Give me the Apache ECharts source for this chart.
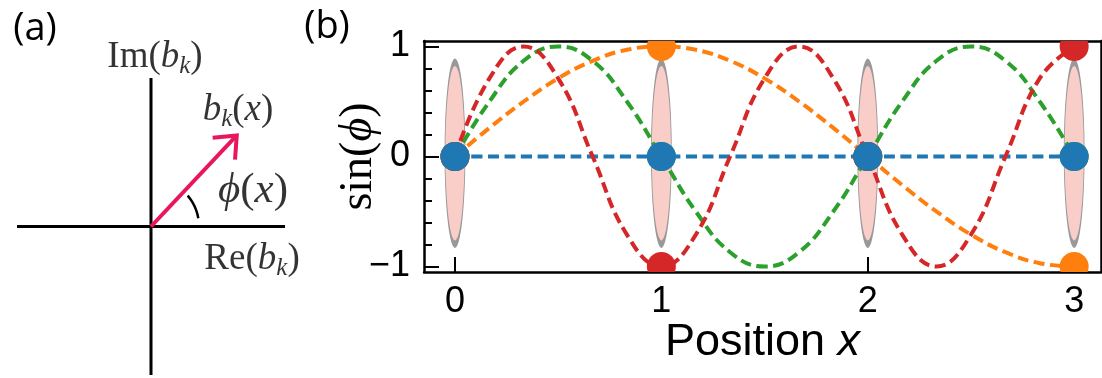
<!DOCTYPE html>
<html>
<head>
<meta charset="utf-8">
<script src="https://cdn.jsdelivr.net/npm/echarts@6/dist/echarts.min.js"></script>
<style>
  html, body { margin: 0; padding: 0; background: #fff; }
  #chart { width: 1102px; height: 378px; }
</style>
</head>
<body>
<div id="chart"></div>
<script>
// ---- panel (b): sin(phi) along the chain ----
const positions = [0, 0.167, 0.333, 0.5, 0.667, 0.833, 1, 1.167, 1.333, 1.5, 1.667, 1.833, 2, 2.167, 2.333, 2.5, 2.667, 2.833, 3];
const blueCurve = [0, 0, 0, 0, 0, 0, 0, 0, 0, 0, 0, 0, 0, 0, 0, 0, 0, 0, 0];
const orangeCurve = [0, 0.26, 0.5, 0.71, 0.87, 0.97, 1, 0.97, 0.87, 0.71, 0.5, 0.26, 0, -0.26, -0.5, -0.71, -0.87, -0.97, -1];
const greenCurve = [0, 0.5, 0.87, 1, 0.87, 0.5, 0, -0.5, -0.87, -1, -0.87, -0.5, 0, 0.5, 0.87, 1, 0.87, 0.5, 0];
const redCurve = [0, 0.71, 1, 0.71, 0, -0.71, -1, -0.71, 0, 0.71, 1, 0.71, 0, -0.71, -1, -0.71, 0, 0.71, 1];

const sites = [0, 1, 2, 3];
const blueDots = [0, 0, 0, 0];
const orangeDots = [0, 1, 0, -1];
const greenDots = [0, 0, 0, 0];
const redDots = [0, -1, 0, 1];
const ellipseCenter = 0.03;

const xTicks = [0, 1, 2, 3];
const yLabels = [-1, 0, 1];
const yMinorTicks = [-0.8, -0.6, -0.4, -0.2, 0.2, 0.4, 0.6, 0.8];

// ---- panel (a): complex plane sketch ----
const realAxis = [[-1, 0], [1, 0]];
const imagAxis = [[0, -1], [0, 1]];
const arrowShaft = [[0, 0], [0.640, 0.613]];
const arrowHead = [[0.460, 0.597], [0.640, 0.613], [0.627, 0.451]];
const angleArc = [[0.353, 0.056], [0.337, 0.110], [0.310, 0.162], [0.274, 0.208]];
const sketchLabels = [
  { value: [0.03, 1.138], text: '{r|Im(}{i|b}{s|k}{r|)}' },
  { value: [0.649, 0.781], text: '{i|b}{s|k}{r|(}{i|x}{r|)}' },
  { value: [0.761, 0.242], text: '{I|ϕ}{R|(}{I|x}{R|)}' },
  { value: [0.754, -0.222], text: '{r|Re(}{i|b}{s|k}{r|)}' }
];

const C = { blue: '#1f77b4', orange: '#ff7f0e', green: '#2ca02c', red: '#d62728' };
const SERIF = '"Liberation Serif", "DejaVu Serif", serif';
const SANS = '"Liberation Sans", Arial, sans-serif';

const mathRich = {
  r: { fontFamily: SERIF, fontSize: 37, lineHeight: 42, color: '#000' },
  i: { fontFamily: SERIF, fontSize: 37, lineHeight: 42, fontStyle: 'italic', color: '#000' },
  s: { fontFamily: SERIF, fontSize: 25, lineHeight: 14, fontStyle: 'italic', verticalAlign: 'bottom', color: '#000' },
  R: { fontFamily: SERIF, fontSize: 43, lineHeight: 46, color: '#000' },
  I: { fontFamily: SERIF, fontSize: 43, lineHeight: 46, fontStyle: 'italic', color: '#000' }
};

const chart = echarts.init(document.getElementById('chart'), null, { renderer: 'canvas' });

const pair = (xs, ys) => xs.map((x, i) => [x, ys[i]]);

const curve = (vals, color) => ({
  type: 'line', xAxisIndex: 1, yAxisIndex: 1,
  data: pair(positions, vals),
  smooth: 0.45, showSymbol: false, symbol: 'none', silent: true, z: 3,
  lineStyle: { color, width: 4, type: [11, 5.5] }
});

const dots = (vals, color, z) => ({
  type: 'custom', xAxisIndex: 1, yAxisIndex: 1, clip: true, silent: true, z,
  data: pair(sites, vals),
  renderItem: (params, api) => {
    const p = api.coord([api.value(0), api.value(1)]);
    return { type: 'circle', shape: { cx: p[0], cy: p[1], r: 14.5 }, style: { fill: color } };
  }
});

const sketchLine = (data, color, width, smooth) => ({
  type: 'line', xAxisIndex: 0, yAxisIndex: 0, data, smooth: smooth || false,
  symbol: 'none', silent: true, clip: false,
  lineStyle: { color, width, cap: 'butt', join: 'miter' }
});

const option = {
  animation: false,
  backgroundColor: '#fff',
  graphic: [
    { type: 'text', x: 35, y: 29, style: { text: '(a)', font: '38px "Open Sans", "Noto Sans", sans-serif', fill: '#000', textAlign: 'center', textVerticalAlign: 'middle' } },
    { type: 'text', x: 327, y: 27, style: { text: '(b)', font: '38px "Open Sans", "Noto Sans", sans-serif', fill: '#000', textAlign: 'center', textVerticalAlign: 'middle' } }
  ],
  grid: [
    { left: 17, top: 78, width: 268, height: 297 },
    { left: 424, top: 41, right: 1, height: 231 }
  ],
  xAxis: [
    { gridIndex: 0, type: 'value', min: -1, max: 1, show: false },
    {
      gridIndex: 1, type: 'value', min: -0.15, max: 3.13, position: 'bottom',
      axisLine: { onZero: false, lineStyle: { color: '#000', width: 2.5 } },
      axisTick: { inside: true, length: 15, customValues: xTicks, lineStyle: { color: '#000', width: 2 } },
      axisLabel: { customValues: xTicks, fontFamily: SANS, fontSize: 36, color: '#000', margin: 12 },
      splitLine: { show: false },
      name: '{a|Position }{b|x}', nameLocation: 'middle', nameGap: 48, nameMoveOverlap: false,
      nameTextStyle: {
        rich: {
          a: { fontFamily: SANS, fontSize: 45, color: '#000' },
          b: { fontFamily: SANS, fontSize: 45, fontStyle: 'italic', color: '#000' }
        }
      }
    },
    {
      gridIndex: 1, type: 'value', min: -0.15, max: 3.13, position: 'top',
      axisLine: { onZero: false, lineStyle: { color: '#000', width: 2.5 } },
      axisTick: { show: false }, axisLabel: { show: false }, splitLine: { show: false }
    }
  ],
  yAxis: [
    { gridIndex: 0, type: 'value', min: -1, max: 1, show: false },
    {
      gridIndex: 1, type: 'value', min: -1.05, max: 1.05, position: 'left',
      axisLine: { onZero: false, lineStyle: { color: '#000', width: 2.5 } },
      axisTick: { inside: true, length: 15, customValues: yLabels, lineStyle: { color: '#000', width: 2 } },
      axisLabel: {
        customValues: yLabels, fontFamily: SANS, fontSize: 36, color: '#000', margin: 14,
        formatter: v => String(v).replace('-', '\u2212')
      },
      splitLine: { show: false },
      name: '{r|sin(}{i|ϕ}{r|)}', nameLocation: 'middle', nameRotate: 90, nameGap: 42, nameMoveOverlap: false,
      nameTextStyle: {
        rich: {
          r: { fontFamily: SERIF, fontSize: 46, color: '#000' },
          i: { fontFamily: SERIF, fontSize: 46, fontStyle: 'italic', color: '#000' }
        }
      }
    },
    {
      gridIndex: 1, type: 'value', min: -1.05, max: 1.05, position: 'left',
      axisLine: { show: false, onZero: false },
      axisTick: { inside: true, length: 8, customValues: yMinorTicks, lineStyle: { color: '#000', width: 2 } },
      axisLabel: { show: false }, splitLine: { show: false }
    },
    {
      gridIndex: 1, type: 'value', min: -1.05, max: 1.05, position: 'right',
      axisLine: { onZero: false, lineStyle: { color: '#000', width: 2.5 } },
      axisTick: { show: false }, axisLabel: { show: false }, splitLine: { show: false }
    }
  ],
  series: [
    // panel (a)
    sketchLine(realAxis, '#000', 3),
    sketchLine(imagAxis, '#000', 3),
    sketchLine(arrowShaft, '#e8175d', 4),
    sketchLine(arrowHead, '#e8175d', 4),
    sketchLine(angleArc, '#000', 2.5, true),
    {
      type: 'scatter', xAxisIndex: 0, yAxisIndex: 0, clip: false, silent: true,
      symbolSize: 0, data: sketchLabels,
      label: { show: true, position: 'inside', formatter: p => p.data.text, rich: mathRich }
    },
    // panel (b)
    {
      type: 'scatter', xAxisIndex: 1, yAxisIndex: 1, silent: true, z: 1,
      data: sites.map(x => [x, ellipseCenter]),
      symbol: 'circle', symbolSize: [20, 182],
      itemStyle: { color: '#f9cdc8', borderColor: '#999999', borderWidth: 2.5, opacity: 1 }
    },
    curve(blueCurve, C.blue),
    curve(orangeCurve, C.orange),
    curve(greenCurve, C.green),
    curve(redCurve, C.red),
    dots(orangeDots, C.orange, 4),
    dots(greenDots, C.green, 4),
    dots(redDots, C.red, 4),
    dots(blueDots, C.blue, 5)
  ]
};

chart.setOption(option);
window.addEventListener('resize', () => chart.resize());
</script>
</body>
</html>
